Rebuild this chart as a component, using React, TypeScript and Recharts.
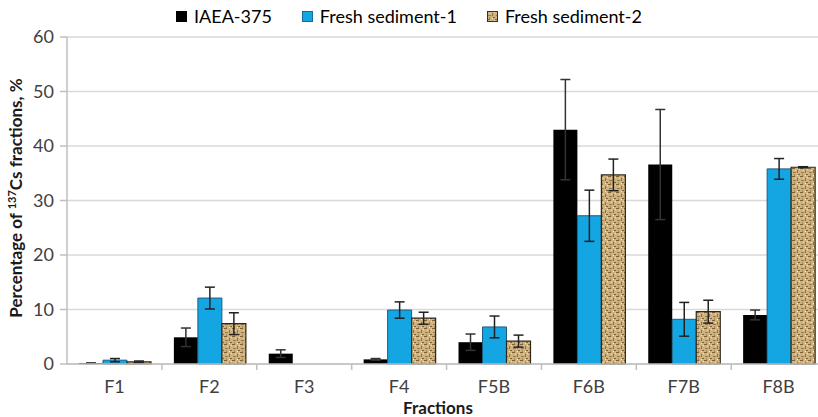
import { BarChart, Bar, XAxis, YAxis, CartesianGrid, ErrorBar, Label } from 'recharts';

const categories = ['F1', 'F2', 'F3', 'F4', 'F5B', 'F6B', 'F7B', 'F8B'];
const iaea = [0.15, 4.9, 1.9, 0.85, 4.0, 43.0, 36.6, 9.0];
const iaeaErr = [0.05, 1.7, 0.7, 0.15, 1.5, 9.2, 10.1, 0.9];
const fresh1 = [0.7, 12.1, 0, 9.9, 6.8, 27.2, 8.2, 35.8];
const fresh1Err = [0.3, 2.0, 0, 1.5, 2.0, 4.7, 3.1, 1.9];
const fresh2 = [0.4, 7.4, 0, 8.4, 4.2, 34.7, 9.6, 36.1];
const fresh2Err = [0.15, 2.0, 0, 1.1, 1.1, 2.9, 2.1, 0.1];
const yTicks = [0, 10, 20, 30, 40, 50, 60];

const data = categories.map((name, i) => ({
  name,
  iaea: iaea[i],
  iaeaErr: iaeaErr[i],
  fresh1: fresh1[i],
  fresh1Err: fresh1Err[i],
  fresh2: fresh2[i],
  fresh2Err: fresh2Err[i],
}));

const font = 'Lato, "Liberation Sans", sans-serif';

const legendItems = [
  { label: 'IAEA-375', fill: '#000', border: '#000' },
  { label: 'Fresh sediment-1', fill: '#14a5e3', border: '#0d6f9c' },
  { label: 'Fresh sediment-2', fill: 'url(#burlap)', border: '#3a2f20' },
];

function ChartLegend() {
  return (
    <div
      style={{
        position: 'absolute',
        top: 5,
        left: 0,
        width: 818,
        display: 'flex',
        justifyContent: 'center',
        gap: 30,
        fontFamily: font,
        fontSize: 18,
        color: '#000',
      }}
    >
      {legendItems.map((it) => (
        <div key={it.label} style={{ display: 'flex', alignItems: 'center', gap: 7 }}>
          <svg width={11} height={11}>
            <rect x={0.5} y={0.5} width={10} height={10} fill={it.fill} stroke={it.border} />
          </svg>
          <span>{it.label}</span>
        </div>
      ))}
    </div>
  );
}

function XTick(props: any) {
  const { x, y, payload, index } = props;
  const band = 94.75;
  return (
    <g>
      {index > 0 && <line x1={x - band / 2} x2={x - band / 2} y1={y - 8} y2={y - 2} stroke="#bfbfbf" strokeWidth={1.5} />}
      <text x={x} y={y + 21} textAnchor="middle" fill="#404040" fontSize={18} fontFamily={font}>
        {payload.value}
      </text>
    </g>
  );
}

function XLabel() {
  return (
    <text x={438} y={414} textAnchor="middle" fontFamily={font} fontSize={17} fontWeight="bold" fill="#1a1a1a">
      Fractions
    </text>
  );
}

function YLabel() {
  const cx = 22;
  const cy = 198;
  return (
    <text
      x={cx}
      y={cy}
      transform={`rotate(-90, ${cx}, ${cy})`}
      textAnchor="middle"
      fontFamily={font}
      fontSize={17}
      fontWeight="bold"
      fill="#1a1a1a"
    >
      Percentage of <tspan fontSize={11} dy={-6}>137</tspan>
      <tspan dy={6}>Cs fractions, %</tspan>
    </text>
  );
}

export default function App() {
  return (
    <div style={{ position: 'relative', width: 818, height: 417, overflow: 'hidden', background: '#fff' }}>
      <style>{'body{margin:0}'}</style>
      <BarChart
        width={826}
        height={417}
        data={data}
        margin={{ top: 37, right: 0, bottom: 23, left: 0 }}
        barCategoryGap={12}
        barGap={0}
      >
        <defs>
          <pattern id="burlap" width="8" height="8" patternUnits="userSpaceOnUse">
            <rect width="8" height="8" fill="#cfb37f" />
            <rect x="0" y="0" width="3" height="1" fill="#7f6238" />
            <rect x="5" y="2" width="1" height="3" fill="#8e7045" />
            <rect x="1" y="4" width="3" height="1" fill="#957850" />
            <rect x="6" y="6" width="2" height="1" fill="#7f6238" />
            <rect x="2" y="6" width="1" height="2" fill="#a68a5e" />
            <rect x="7" y="1" width="1" height="1" fill="#f0e2c0" />
            <rect x="3" y="2" width="1" height="1" fill="#f0e2c0" />
            <rect x="5" y="7" width="1" height="1" fill="#f3e7c9" />
          </pattern>
        </defs>
        <CartesianGrid vertical={false} stroke="#d9d9d9" strokeWidth={1.5} />
        <XAxis
          dataKey="name"
          height={30}
          stroke="#bfbfbf"
          strokeWidth={1.5}
          tickLine={false}
          tick={<XTick />}
          interval={0}
        >
          <Label content={<XLabel />} />
        </XAxis>
        <YAxis
          width={67}
          domain={[0, 60]}
          ticks={yTicks}
          interval={0}
          stroke="#bfbfbf"
          strokeWidth={1.5}
          tickSize={7}
          tickMargin={6}
          tick={{ fill: '#404040', fontSize: 18, fontFamily: font }}
          label={<YLabel />}
        />
        <Bar dataKey="iaea" fill="#000" isAnimationActive={false}>
          <ErrorBar dataKey="iaeaErr" stroke="#333" strokeWidth={1.5} width={5} />
        </Bar>
        <Bar dataKey="fresh1" fill="#14a5e3" stroke="#1d5d7e" strokeWidth={1} isAnimationActive={false}>
          <ErrorBar dataKey="fresh1Err" stroke="#222" strokeWidth={1.5} width={5} />
        </Bar>
        <Bar dataKey="fresh2" fill="url(#burlap)" stroke="#2e2618" strokeWidth={1.2} isAnimationActive={false}>
          <ErrorBar dataKey="fresh2Err" stroke="#222" strokeWidth={1.5} width={5} />
        </Bar>
      </BarChart>
      <ChartLegend />
    </div>
  );
}
